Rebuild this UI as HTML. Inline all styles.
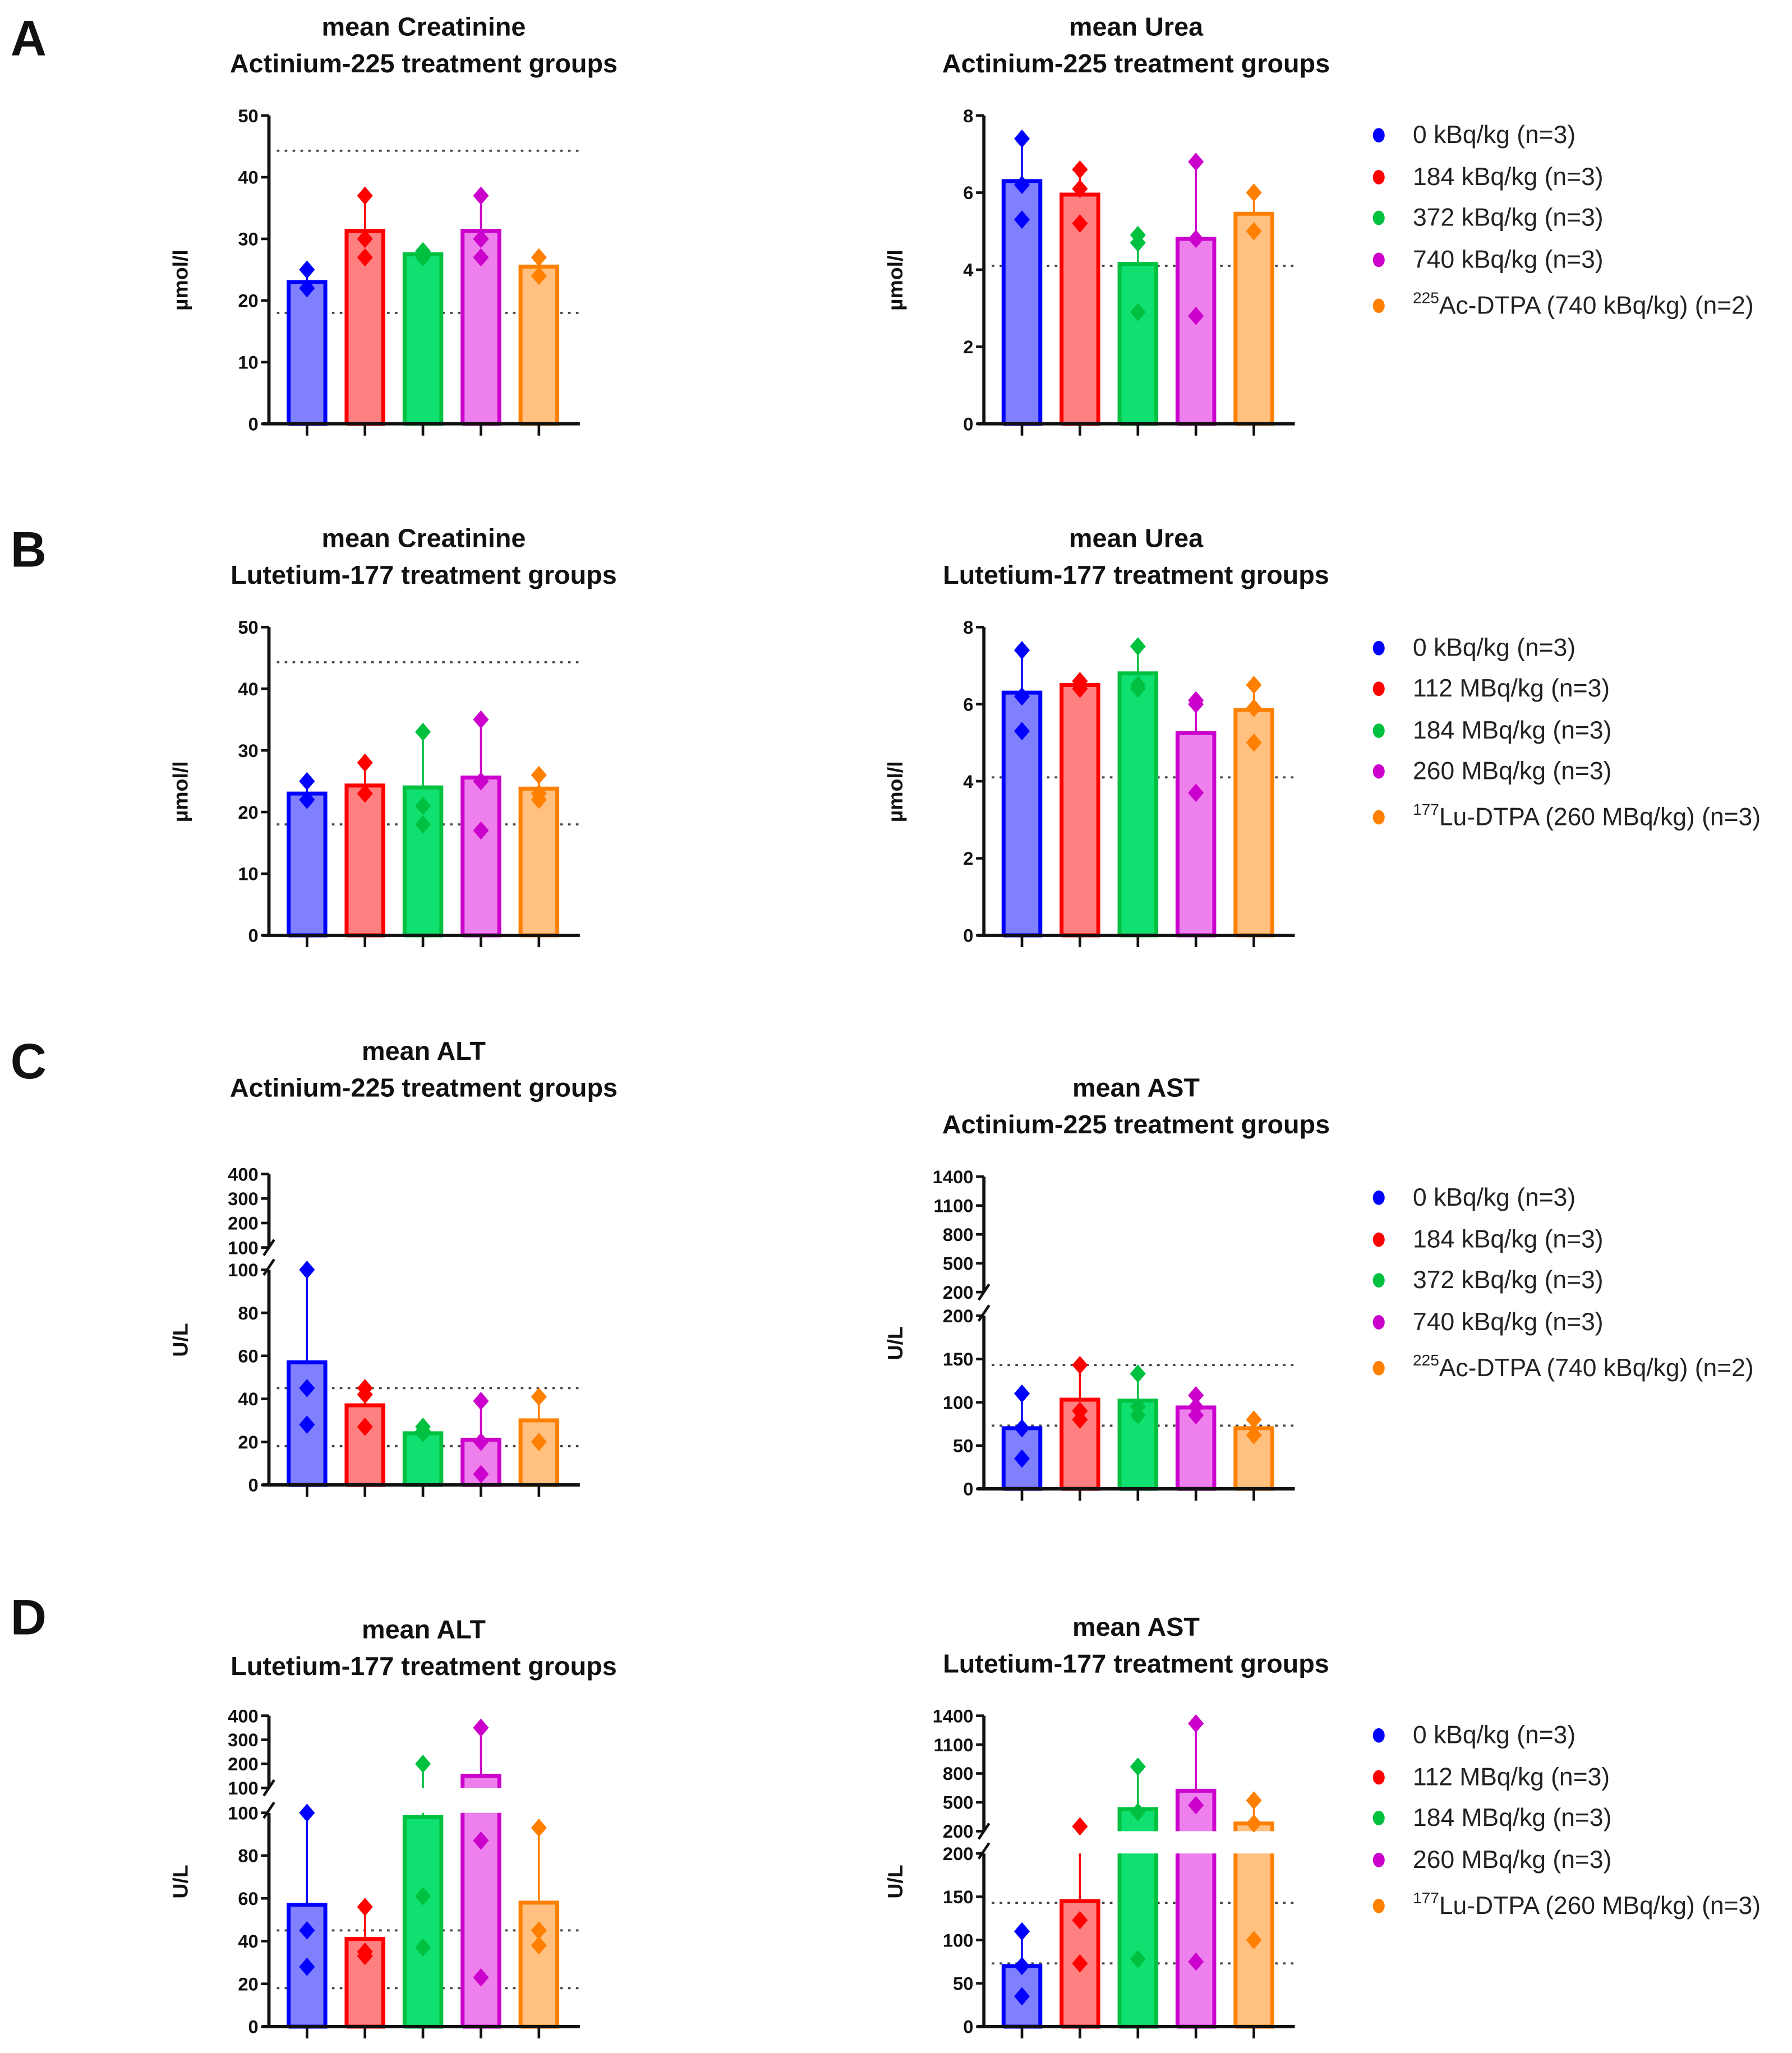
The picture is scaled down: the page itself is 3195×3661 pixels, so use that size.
<!DOCTYPE html>
<html><head><meta charset="utf-8"><style>
html,body{margin:0;padding:0;background:#fff}
svg{display:block}
text{font-family:"Liberation Sans",sans-serif}
</style></head><body>
<svg id="fig" xmlns="http://www.w3.org/2000/svg" width="3195" height="3661" viewBox="0 0 1366 1565">
<rect width="1366" height="1565" fill="#fff"/>
<g font-weight="bold" font-size="38" fill="#111">
<text x="8" y="42">A</text>
<text x="8" y="432">B</text>
<text x="8" y="822">C</text>
<text x="8" y="1246">D</text>
</g>
<g id="charts"></g>
</svg>
<script>
const groupFills=["#8080ff","#ff8080","#10e070","#ee80ee","#ffc080"];
const groupStrokes=["#0000ff","#ff0000","#00c040","#cc00cc","#ff8000"];

const creatAcMeans=[23,31.3,27.5,31.3,25.5];
const creatAcErr=[25,36.5,28,36.5,27];
const creatAcPoints=[[25,22,22],[37,30,27],[28,27,27.5],[37,30,27],[27,24]];
const ureaAcMeans=[6.3,5.95,4.15,4.8,5.45];
const ureaAcErr=[7.35,6.55,4.85,6.8,6.0];
const ureaAcPoints=[[7.4,6.2,5.3],[6.6,6.1,5.2],[4.9,4.7,2.9],[6.8,4.8,2.8],[6.0,5.0]];
const creatLuMeans=[23,24.3,24,25.6,23.8];
const creatLuErr=[25,28,33,35,26];
const creatLuPoints=[[25,22,22],[28,23,23],[33,21,18],[35,25,17],[26,23,22]];
const ureaLuMeans=[6.3,6.5,6.8,5.25,5.85];
const ureaLuErr=[7.35,6.6,7.5,6.1,6.5];
const ureaLuPoints=[[7.4,6.2,5.3],[6.6,6.5,6.4],[7.5,6.5,6.4],[6.1,6.0,3.7],[6.5,5.9,5.0]];
const altAcMeans=[57,37,24,21,30];
const altAcErr=[100,45,27,39,41];
const altAcPoints=[[100,45,28],[45,42,27],[27,25,24],[39,20,5],[41,20]];
const astAcMeans=[70,103,102,94,70];
const astAcErr=[110,143,133,108,80];
const astAcPoints=[[110,70,35],[143,90,80],[133,95,85],[108,95,85],[80,62]];
const altLuMeans=[57,41,98,150,58];
const altLuErr=[100,56,200,350,93];
const altLuPoints=[[100,45,28],[56,35,33],[200,61,37],[350,87,23],[93,45,38]];
const astLuMeans=[70,145,430,620,280];
const astLuErr=[110,250,870,1320,520];
const astLuPoints=[[110,70,35],[250,123,73],[870,400,78],[1320,470,75],[520,280,100]];

const creatTicks=[0,10,20,30,40,50];
const ureaTicks=[0,2,4,6,8];
const altLowTicks=[0,20,40,60,80,100];
const altHighTicks=[100,200,300,400];
const astLowTicks=[0,50,100,150,200];
const astHighTicks=[200,500,800,1100,1400];
const creatRefLines=[44.3,18];
const ureaRefLines=[4.1];
const altRefLines=[45,18];
const astRefLines=[143,73];

const legendAc=["0 kBq/kg (n=3)","184 kBq/kg (n=3)","372 kBq/kg (n=3)","740 kBq/kg (n=3)","Ac-DTPA (740 kBq/kg) (n=2)"];
const legendLu=["0 kBq/kg (n=3)","112 MBq/kg (n=3)","184 MBq/kg (n=3)","260 MBq/kg (n=3)","Lu-DTPA (260 MBq/kg) (n=3)"];

const NS="http://www.w3.org/2000/svg";
const root=document.getElementById('charts');
function el(tag,attrs,parent){const e=document.createElementNS(NS,tag);for(const k in attrs)e.setAttribute(k,attrs[k]);(parent||root).appendChild(e);return e;}

function makeY(segs){return v=>{let s=segs[segs.length-1];for(const sg of segs){if(v<=sg.vmax){s=sg;break;}}
  const c=Math.max(s.vmin,Math.min(s.vmax,v));return s.y0+(c-s.vmin)/(s.vmax-s.vmin)*(s.y1-s.y0);};}
function segY(s,v){return s.y0+(v-s.vmin)/(s.vmax-s.vmin)*(s.y1-s.y0);}

function chart(o){
  const g=el('g',{});
  
  
  const segs=o.segs, ax=o.ax, y0=segs[0].y0, xs=i=>ax+29+i*44.2;
  o.title.forEach((t,i)=>{const tt=el('text',{x:o.tcx,y:o.ty+i*28,'text-anchor':'middle','font-size':20,'font-weight':'bold',fill:'#111'},g);tt.textContent=t;
    });
  const yc=(segs[0].y0+segs[segs.length-1].y1)/2+8;
  const yl=el('text',{x:0,y:0,transform:`translate(${ax-62},${yc}) rotate(-90)`,'text-anchor':'middle','font-size':16,'font-weight':'bold',fill:'#111'},g);
  yl.textContent=o.ylabel;
  
  
  const Y=makeY(segs);
  o.refs.forEach(r=>{const l=el('line',{x1:ax+6,x2:ax+236,y1:Y(r),y2:Y(r),stroke:'#444','stroke-width':1.6,'stroke-dasharray':'2 4'},g);
    });
  o.means.forEach((m,i)=>{const x=xs(i);
    segs.forEach(s=>{const hi=Math.min(m,s.vmax);if(hi>s.vmin){const ya=segY(s,s.vmin),yb=segY(s,hi);
      const r=el('rect',{x:x-14,y:yb,width:28,height:ya-yb,fill:groupFills[i]},g);
      
      let d=`M${x-14} ${ya}L${x-14} ${yb}`;
      if(hi==m) d+=`L${x+14} ${yb}`; else d+=`M${x+14} ${yb}`;
      d+=`L${x+14} ${ya}`;
      if(s.vmin==0) d+=`L${x-14} ${ya}`;
      el('path',{d:d,fill:'none',stroke:groupStrokes[i],'stroke-width':3},g);}});
    const e=o.err[i];
    segs.forEach(s=>{const lo=Math.max(m,s.vmin),hi=Math.min(e,s.vmax);if(hi>lo){
      const l=el('line',{x1:x,x2:x,y1:segY(s,lo),y2:segY(s,hi),stroke:groupStrokes[i],'stroke-width':1.5},g);
      }});
    o.pts[i].forEach(p=>{const py=Y(p);
      const d=el('path',{d:`M${x} ${py-7}L${x+6} ${py}L${x} ${py+7}L${x-6} ${py}Z`,fill:groupStrokes[i]},g);
      });
  });
  segs.forEach((s,k)=>{const a=el('line',{x1:ax,x2:ax,y1:s.y0+(k==0?1:0),y2:s.y1,stroke:'#111','stroke-width':2.5},g);
    });
  if(segs.length>1){const yb=segs[0].y1, yt=segs[1].y0;
    el('line',{x1:ax-4,y1:yb+4,x2:ax+4,y2:yb-8,stroke:'#111','stroke-width':2},g);
    el('line',{x1:ax-4,y1:yt+6,x2:ax+4,y2:yt-6,stroke:'#111','stroke-width':2},g);}
  const xa=el('line',{x1:ax-5,x2:ax+237,y1:y0,y2:y0,stroke:'#111','stroke-width':2.5},g);
  
  o.means.forEach((m,i)=>{el('line',{x1:xs(i),x2:xs(i),y1:y0,y2:y0+9,stroke:'#111','stroke-width':2},g);});
  o.ticks.forEach((tk,k)=>{tk.forEach(v=>{const yy=segY(segs[k],v);
    el('line',{x1:ax-6,x2:ax,y1:yy,y2:yy,stroke:'#111','stroke-width':2},g);
    const t=el('text',{x:ax-8,y:yy+5,'text-anchor':'end','font-size':14,'font-weight':'bold',fill:'#111'},g);t.textContent=v;
    });});
}
function legend(items,ys,sup){
  const g=el('g',{});
  
  
  items.forEach((t,i)=>{const y=ys[i];
    const c=el('ellipse',{cx:1051,cy:y,rx:4.5,ry:5.5,fill:groupStrokes[i]},g);
    
    const tx=el('text',{x:1077,y:y+6,'font-size':19,fill:'#222'},g);
    if(i==4){const s=el('tspan',{'font-size':12,dy:-8},tx);s.textContent=sup;const r=el('tspan',{dy:8},tx);r.textContent=t;}
    else tx.textContent=t;
    });
}
const L=205,R=750;
chart({name:'creatinine-ac-chart',ax:L,tcx:323,ty:27,title:['mean Creatinine','Actinium-225 treatment groups'],ylabel:'µmol/l',segs:[{vmin:0,vmax:50,y0:323,y1:88}],ticks:[creatTicks],refs:creatRefLines,means:creatAcMeans,err:creatAcErr,pts:creatAcPoints});
chart({name:'urea-ac-chart',ax:R,tcx:866,ty:27,title:['mean Urea','Actinium-225 treatment groups'],ylabel:'µmol/l',segs:[{vmin:0,vmax:8,y0:323,y1:88}],ticks:[ureaTicks],refs:ureaRefLines,means:ureaAcMeans,err:ureaAcErr,pts:ureaAcPoints});
chart({name:'creatinine-lu-chart',ax:L,tcx:323,ty:417,title:['mean Creatinine','Lutetium-177 treatment groups'],ylabel:'µmol/l',segs:[{vmin:0,vmax:50,y0:713,y1:478}],ticks:[creatTicks],refs:creatRefLines,means:creatLuMeans,err:creatLuErr,pts:creatLuPoints});
chart({name:'urea-lu-chart',ax:R,tcx:866,ty:417,title:['mean Urea','Lutetium-177 treatment groups'],ylabel:'µmol/l',segs:[{vmin:0,vmax:8,y0:713,y1:478}],ticks:[ureaTicks],refs:ureaRefLines,means:ureaLuMeans,err:ureaLuErr,pts:ureaLuPoints});
chart({name:'alt-ac-chart',ax:L,tcx:323,ty:808,title:['mean ALT','Actinium-225 treatment groups'],ylabel:'U/L',segs:[{vmin:0,vmax:100,y0:1132,y1:968},{vmin:100,vmax:400,y0:951,y1:895}],ticks:[altLowTicks,altHighTicks],refs:altRefLines,means:altAcMeans,err:altAcErr,pts:altAcPoints});
chart({name:'ast-ac-chart',ax:R,tcx:866,ty:836,title:['mean AST','Actinium-225 treatment groups'],ylabel:'U/L',segs:[{vmin:0,vmax:200,y0:1135,y1:1003},{vmin:200,vmax:1400,y0:985,y1:897}],ticks:[astLowTicks,astHighTicks],refs:astRefLines,means:astAcMeans,err:astAcErr,pts:astAcPoints});
chart({name:'alt-lu-chart',ax:L,tcx:323,ty:1249,title:['mean ALT','Lutetium-177 treatment groups'],ylabel:'U/L',segs:[{vmin:0,vmax:100,y0:1545,y1:1382},{vmin:100,vmax:400,y0:1363,y1:1308}],ticks:[altLowTicks,altHighTicks],refs:altRefLines,means:altLuMeans,err:altLuErr,pts:altLuPoints});
chart({name:'ast-lu-chart',ax:R,tcx:866,ty:1247,title:['mean AST','Lutetium-177 treatment groups'],ylabel:'U/L',segs:[{vmin:0,vmax:200,y0:1545,y1:1413},{vmin:200,vmax:1400,y0:1396,y1:1308}],ticks:[astLowTicks,astHighTicks],refs:astRefLines,means:astLuMeans,err:astLuErr,pts:astLuPoints});
legend(legendAc,[103,135,166,198,233],'225');
legend(legendLu,[494,525,557,588,623],'177');
legend(legendAc,[913,945,976,1008,1043],'225');
legend(legendLu,[1323,1355,1386,1418,1453],'177');
</script>
</body></html>
